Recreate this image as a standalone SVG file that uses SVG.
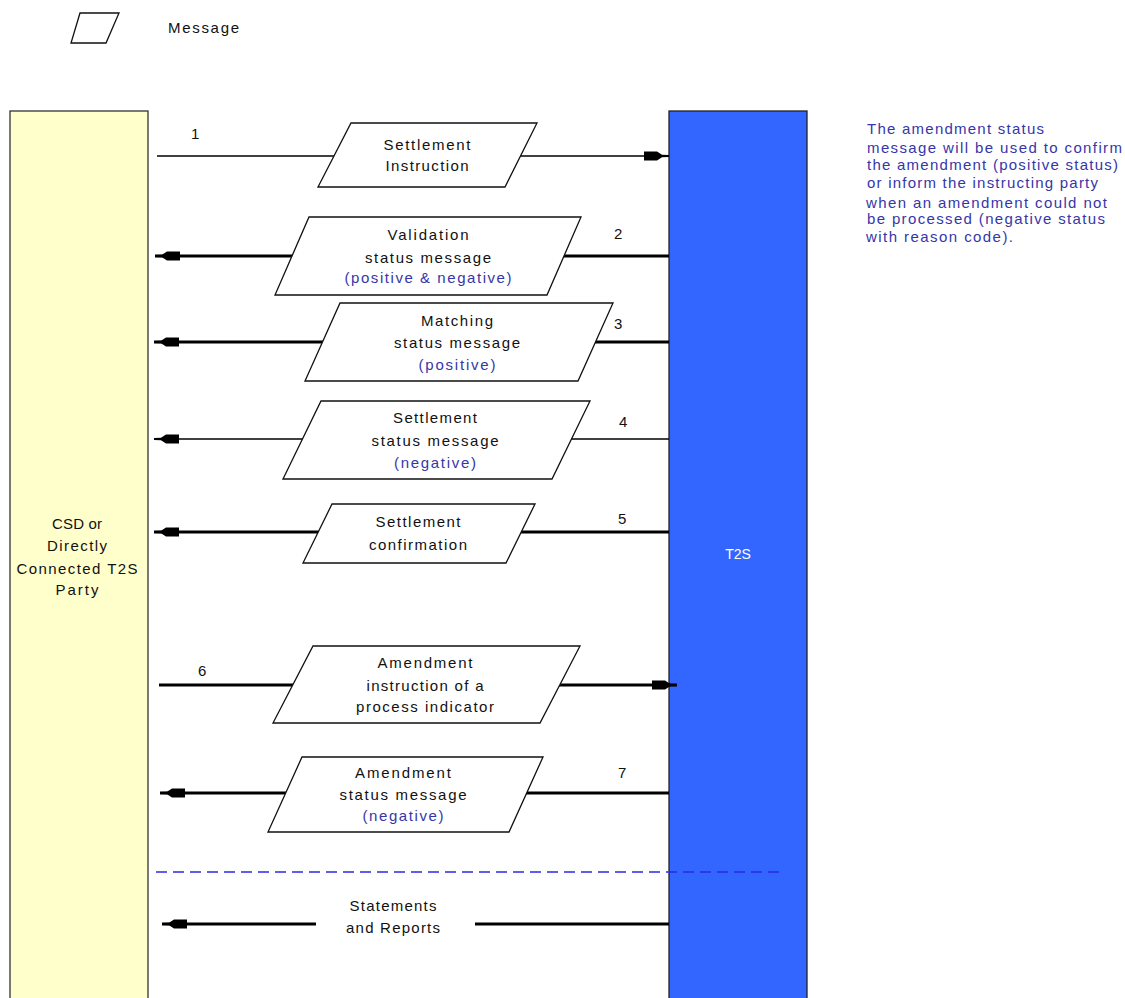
<svg xmlns="http://www.w3.org/2000/svg" width="1125" height="998" viewBox="0 0 1125 998">
<style>
text{font-family:"Liberation Sans",Arial,sans-serif;font-size:15px;fill:#111}
.c{text-anchor:middle}
.b{fill:#3636a8}
.w{fill:#ffffff}
.msg{fill:#ffffff;stroke:#111;stroke-width:1.3}
.thick{stroke:#000;stroke-width:3;fill:none}
.thin{stroke:#000;stroke-width:1.3;fill:none}
</style>
<defs>
<marker id="ah" markerUnits="userSpaceOnUse" viewBox="-26 -6 28 12" refX="0" refY="0" markerWidth="28" markerHeight="12" orient="auto">
<path d="M-25,-4.5 L-12,-4.5 L-7,-1.3 L0,-1.1 L0,1.1 L-7,1.3 L-12,4.5 L-25,4.5 Z" fill="#000"/>
</marker>
</defs>
<rect width="1125" height="998" fill="#ffffff"/>

<g id="legend">
<polygon class="msg" points="80,13 119,13 106,43 71,43"/>
<text x="168" y="33" textLength="71" lengthAdjust="spacing">Message</text>
</g>

<g id="csd">
<rect x="10" y="111" width="138" height="900" fill="#ffffcc" stroke="#333" stroke-width="1.3"/>
<text class="c" x="77" y="529" textLength="50" lengthAdjust="spacing">CSD or</text>
<text class="c" x="77" y="551" textLength="60" lengthAdjust="spacing">Directly</text>
<text class="c" x="77" y="574" textLength="121" lengthAdjust="spacing">Connected T2S</text>
<text class="c" x="77" y="595" textLength="43" lengthAdjust="spacing">Party</text>
</g>

<g id="t2s">
<rect x="669" y="111" width="138" height="900" fill="#3366ff" stroke="#222" stroke-width="1.3"/>
<text class="c w" x="738" y="559" style="font-size:14px">T2S</text>
</g>

<g id="connectors">
<path class="thin" d="M157,156 L669,156" marker-end="url(#ah)"/>
<path class="thick" d="M669,256 L155,256" marker-end="url(#ah)"/>
<path class="thick" d="M669,342 L154,342" marker-end="url(#ah)"/>
<path class="thin" d="M669,439 L154,439" marker-end="url(#ah)"/>
<path class="thick" d="M669,532 L154,532" marker-end="url(#ah)"/>
<path class="thick" d="M159,685 L677,685" marker-end="url(#ah)"/>
<path class="thick" d="M669,793 L160,793" marker-end="url(#ah)"/>
<path class="thick" d="M669,924 L475,924 M316,924 L162,924" marker-end="url(#ah)"/>
<text x="191" y="139">1</text>
<text x="614" y="239">2</text>
<text x="614" y="329">3</text>
<text x="619" y="427">4</text>
<text x="618" y="524">5</text>
<text x="198" y="676">6</text>
<text x="618" y="778">7</text>
</g>

<g id="m1">
<polygon class="msg" points="351,123 537,123 505,187 318,187"/>
<text class="c" x="427" y="150" textLength="87" lengthAdjust="spacing">Settlement</text>
<text class="c" x="427" y="171" textLength="83" lengthAdjust="spacing">Instruction</text>
</g>

<g id="m2">
<polygon class="msg" points="309,217 581,217 547,295 275,295"/>
<text class="c" x="428" y="240" textLength="81" lengthAdjust="spacing">Validation</text>
<text class="c" x="428" y="263" textLength="126" lengthAdjust="spacing">status message</text>
<text class="c b" x="428" y="283" textLength="167" lengthAdjust="spacing">(positive &amp; negative)</text>
</g>

<g id="m3">
<polygon class="msg" points="340,303 613,303 578,381 305,381"/>
<text class="c" x="457" y="326" textLength="72" lengthAdjust="spacing">Matching</text>
<text class="c" x="457" y="348" textLength="126" lengthAdjust="spacing">status message</text>
<text class="c b" x="457" y="370" textLength="77" lengthAdjust="spacing">(positive)</text>
</g>

<g id="m4">
<polygon class="msg" points="321,401 590,401 552,479 283,479"/>
<text class="c" x="435" y="423" textLength="84" lengthAdjust="spacing">Settlement</text>
<text class="c" x="435" y="446" textLength="127" lengthAdjust="spacing">status message</text>
<text class="c b" x="435" y="468" textLength="82" lengthAdjust="spacing">(negative)</text>
</g>

<g id="m5">
<polygon class="msg" points="332,504 535,504 506,563 303,563"/>
<text class="c" x="418" y="527" textLength="85" lengthAdjust="spacing">Settlement</text>
<text class="c" x="418" y="550" textLength="98" lengthAdjust="spacing">confirmation</text>
</g>

<g id="m6">
<polygon class="msg" points="313,646 580,646 540,723 273,723"/>
<text class="c" x="425" y="668" textLength="95" lengthAdjust="spacing">Amendment</text>
<text class="c" x="425" y="691" textLength="117" lengthAdjust="spacing">instruction of a</text>
<text class="c" x="425" y="712" textLength="138" lengthAdjust="spacing">process indicator</text>
</g>

<g id="m7">
<polygon class="msg" points="302,757 543,757 509,832 268,832"/>
<text class="c" x="403" y="778" textLength="96" lengthAdjust="spacing">Amendment</text>
<text class="c" x="403" y="800" textLength="127" lengthAdjust="spacing">status message</text>
<text class="c b" x="403" y="821" textLength="81" lengthAdjust="spacing">(negative)</text>
</g>

<g id="reports">
<text class="c" x="393" y="911" textLength="87" lengthAdjust="spacing">Statements</text>
<text class="c" x="393" y="933" textLength="94" lengthAdjust="spacing">and Reports</text>
</g>

<g id="divider">
<line x1="156" y1="872" x2="780" y2="872" stroke="#2a2ae6" stroke-width="1.3" stroke-dasharray="11 6"/>
</g>

<g id="note">
<text class="b" x="867" y="134" textLength="177" lengthAdjust="spacing">The amendment status</text>
<text class="b" x="867" y="153" textLength="255" lengthAdjust="spacing">message will be used to confirm</text>
<text class="b" x="867" y="170" textLength="251" lengthAdjust="spacing">the amendment (positive status)</text>
<text class="b" x="867" y="188" textLength="231" lengthAdjust="spacing">or inform the instructing party</text>
<text class="b" x="866" y="208" textLength="241" lengthAdjust="spacing">when an amendment could not</text>
<text class="b" x="867" y="224" textLength="238" lengthAdjust="spacing">be processed (negative status</text>
<text class="b" x="866" y="242" textLength="147" lengthAdjust="spacing">with reason code).</text>
</g>
</svg>
